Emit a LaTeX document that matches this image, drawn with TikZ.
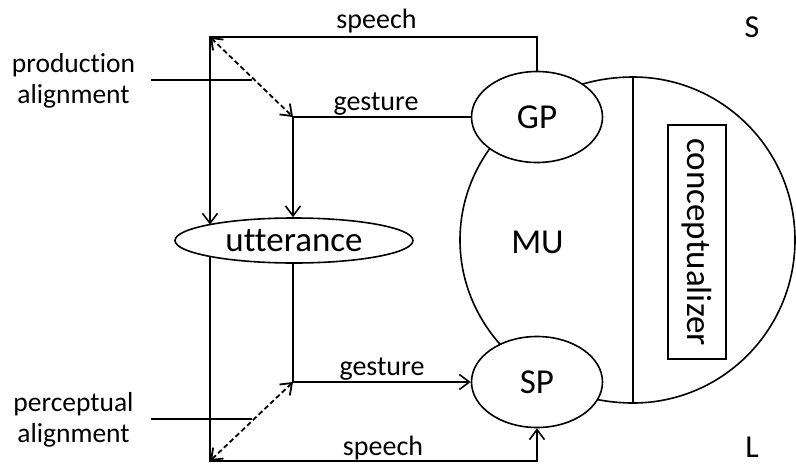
\documentclass[tikz,border=0pt]{standalone}
\usepackage{fontspec}
\setmainfont{Carlito}[Ligatures=NoCommon]
\usetikzlibrary{arrows.meta,shapes.geometric}
\begin{document}
\begin{tikzpicture}[x=1pt,y=-1pt,line width=1.6pt,
  arr/.style={-{Straight Barb[length=10pt,width=15pt]}},
  darr/.style={{Straight Barb[length=10pt,width=15pt]}-{Straight Barb[length=10pt,width=15pt]},dash pattern=on 5pt off 3pt,line width=1.8pt},
  bigfont/.style={font=\fontsize{35}{40}\selectfont},
  proc/.style={ellipse,draw,fill=white,minimum width=131pt,minimum height=91pt,inner sep=0pt,bigfont},
  lbl/.style={anchor=base,inner sep=0pt,font=\fontsize{28}{31}\selectfont},
  side/.style={anchor=base,inner sep=0pt,align=center,font=\fontsize{27.5}{31}\selectfont},
  corner/.style={anchor=base,inner sep=0pt,font=\fontsize{32}{36}\selectfont}]
\useasboundingbox (0,0) rectangle (796,464);

% big shape (MU + conceptualizer)
\coordinate (ctop) at (633,77);
\coordinate (cbot) at (633,403);
\draw (ctop) arc[start angle=90,end angle=270,x radius=173pt,y radius=163pt]
             arc[start angle=270,end angle=450,x radius=162pt,y radius=163pt];
\draw (ctop) -- (cbot);
\node[draw,rotate=-90,minimum width=234pt,minimum height=58pt,inner sep=0pt,bigfont] (conc) at (697,242) {conceptualizer};
\node[bigfont,anchor=base,inner sep=0pt] (MU) at (537.5,253) {MU};

\node[proc] (GP) at (537,117) {GP};
\node[proc] (SP) at (537,382) {SP};
\node[ellipse,draw,fill=white,minimum width=238pt,minimum height=45pt,inner sep=0pt,bigfont] (utt) at (294,240.5) {utterance};

% helper coordinates
\coordinate (tl) at (210,37);
\coordinate (g1) at (293,117);
\coordinate (uttTL) at (210,224.6);
\coordinate (uttBL) at (210,256.4);
\coordinate (g2) at (293,382);
\coordinate (bl) at (210,461);

% production side
\draw[arr] (GP.north) |- (tl) -- (uttTL);
\draw[arr] (GP.west) -- (g1) -- (g1 |- utt.north);
\draw[darr] (tl) -- (g1);

% perception side
\draw[arr] (uttBL) -- (bl) -| (SP.south);
\draw[arr] (g2 |- utt.south) -- (g2) -- (SP.west);
\draw[darr] (g2) -- (bl);

% connector labels
\node[lbl] (sp1) at (376.5,28) {speech};
\node[lbl] (ge1) at (376,110) {gesture};
\node[lbl] (ge2) at (382,375) {gesture};
\node[lbl] (sp2) at (383,455) {speech};

% alignment labels
\coordinate (pa1) at (151,80);
\coordinate (pa2) at (252,80);
\draw (pa1) -- (pa2);
\node[side] (prod) at (73.5,103) {production\\alignment};
\coordinate (pe1) at (151,419);
\coordinate (pe2) at (252,419);
\draw (pe1) -- (pe2);
\node[side] (perc) at (73.5,442) {perceptual\\alignment};

% S and L
\node[corner] (S) at (752,37) {S};
\node[corner] (L) at (752,457) {L};
\end{tikzpicture}
\end{document}
